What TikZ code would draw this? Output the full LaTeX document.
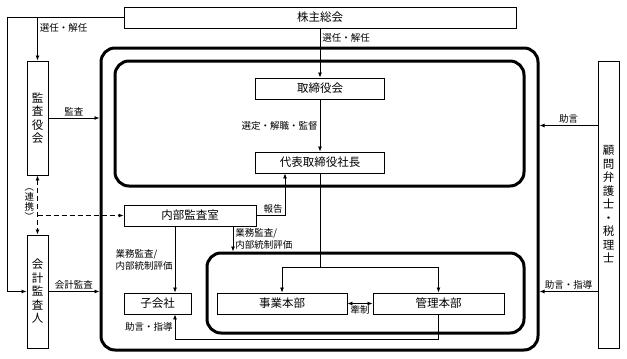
\documentclass[tikz,border=0pt]{standalone}
\usepackage{fontspec}
\setmainfont{Noto Sans CJK JP}
\usepackage{tikz}
\usetikzlibrary{calc,arrows.meta}

\begin{document}
\begin{tikzpicture}[x=1pt,y=-1pt,line width=0.8pt,
  unitbox/.style={draw,line width=0.9pt,inner sep=0pt,minimum height=21pt,font=\fontsize{11.5}{13.5}\selectfont},
  tatebox/.style={draw,line width=0.9pt,inner sep=0pt,minimum width=21pt,align=center,font=\fontsize{11.5}{13.5}\selectfont},
  frame/.style={draw,line width=3pt,rounded corners=14pt,inner sep=0pt},
  lbl/.style={font=\fontsize{9.5}{12}\selectfont,inner sep=2pt},
  arr/.style={-{Latex[length=5pt,width=4pt]}},
  twoarr/.style={{Latex[length=5pt,width=4pt]}-{Latex[length=5pt,width=4pt]}}]
  \useasboundingbox (0,0) rectangle (627,359);
  % frames
  \node[frame,minimum width=437pt,minimum height=302pt] (outer) at (319.5,199) {};
  \node[frame,minimum width=409pt,minimum height=125pt] (board) at (319.5,123.5) {};
  \node[frame,minimum width=317pt,minimum height=80pt] (honbu) at (365.5,293) {};
  % boxes
  \node[unitbox,minimum width=392pt] (kabu) at (320,17.5) {株主総会};
  \node[unitbox,minimum width=129pt] (torishimari) at (320,88.5) {取締役会};
  \node[unitbox,minimum width=129pt] (daihyo) at (320,162.5) {代表取締役社長};
  \node[unitbox,minimum width=132pt] (naibu) at (190,215.5) {内部監査室};
  \node[unitbox,minimum width=67pt] (kogaisha) at (157.5,303.5) {子会社};
  \node[unitbox,minimum width=130pt] (jigyo) at (282,303.5) {事業本部};
  \node[unitbox,minimum width=131pt] (kanri) at (438.5,303.5) {管理本部};
  \node[tatebox,minimum height=114pt] (kansa) at (37.5,118) {監\\査\\役\\会};
  \node[tatebox,minimum height=113pt] (kaikei) at (37.5,291.5) {会\\計\\監\\査\\人};
  \node[tatebox,minimum height=287pt] (komon) at (608.5,204.5) {顧\\問\\弁\\護\\士\\・\\税\\理\\士};
  % helper points
  \coordinate (split) at (daihyo.south |- 0,267);
  \coordinate (kx) at ([xshift=17.5pt]kogaisha.north);
  \coordinate (mid) at ($(torishimari)!0.5!(daihyo)$);
  % connectors
  \draw[arr] (kabu.west) -- ++(-116,0) |- (kaikei.west);
  \draw[arr] (kansa.north |- kabu.west) -- (kansa.north) node[lbl,pos=0.25,right] {選任・解任};
  \draw[arr] (kansa.east) -- (kansa.east -| outer.west) node[lbl,midway,above] {監査};
  \draw[arr] (kaikei.east) -- (kaikei.east -| outer.west) node[lbl,midway,above] {会計監査};
  \draw[twoarr,dash pattern=on 5pt off 3pt] (kansa.south) -- (kaikei.north)
    node[lbl,midway,left,align=center,inner sep=3pt,font=\fontsize{9.5}{10}\selectfont] {︵\\連\\携\\︶};
  \draw[arr,dash pattern=on 5pt off 3pt] (kansa.south |- naibu.west) -- (naibu.west);
  \draw[arr] (kabu.south) -- (torishimari.north) node[lbl,pos=0.2,right] {選任・解任};
  \draw[arr] (torishimari.south) -- (daihyo.north) node[lbl,midway,left] {選定・解職・監督};
  \draw (daihyo.south) -- (split);
  \draw[arr] (split) -| (jigyo.north);
  \draw[arr] (split) -| (kanri.north);
  \draw[arr] (naibu.east) -| ([xshift=-35pt]daihyo.south) node[lbl,pos=0.5,above left] {報告};
  \draw[arr] (kx |- naibu.south) -- (kx) node[lbl,midway,left,align=left] {業務監査/\\内部統制評価};
  \draw[arr] ([xshift=43pt]naibu.south) -- ([xshift=43pt]naibu.south |- honbu.north)
    node[lbl,midway,right,align=left] {業務監査/\\内部統制評価};
  \draw[twoarr] (jigyo.east) -- (kanri.west) node[lbl,midway,below] {牽制};
  \draw[arr] (kanri.south) -- ++(0,25) -| ([xshift=17.5pt]kogaisha.south) node[lbl,pos=0.75,left] {助言・指導};
  \draw[arr] (komon.west |- mid) -- (outer.east |- mid) node[lbl,midway,above] {助言};
  \draw[arr] (komon.west |- kaikei.east) -- (outer.east |- kaikei.east) node[lbl,midway,above] {助言・指導};
\end{tikzpicture}
\end{document}
